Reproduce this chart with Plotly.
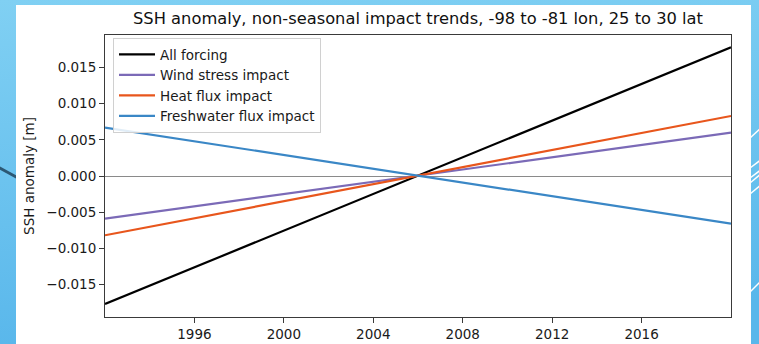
import base64
import plotly.graph_objects as go

# Linear trend end points (start and end of the record), SSH anomaly in metres
years = [1992, 2020]
all_forcing = [-0.0177, 0.0178]
wind_stress = [-0.0059, 0.0060]
heat_flux = [-0.0082, 0.0083]
freshwater_flux = [0.0067, -0.0066]

series_names = ["All forcing", "Wind stress impact", "Heat flux impact", "Freshwater flux impact"]
series_values = [all_forcing, wind_stress, heat_flux, freshwater_flux]
series_colors = ["#000000", "#7b6ab7", "#e8561c", "#3a87c6"]

x_tick_vals = [1996, 2000, 2004, 2008, 2012, 2016]
y_tick_vals = [-0.015, -0.010, -0.005, 0.000, 0.005, 0.010, 0.015]

W, H = 759, 344
L, R, T, B = 105, 28, 35, 27
pw, ph = W - L - R, H - T - B

# Slide backdrop: blue gradient with a few decorative strokes and a white card
svg = f"""<svg xmlns='http://www.w3.org/2000/svg' width='{W}' height='{H}' viewBox='0 0 {W} {H}' preserveAspectRatio='none'>
<defs><linearGradient id='g' x1='0' y1='0' x2='0.15' y2='1'>
<stop offset='0' stop-color='#80d0f3'/><stop offset='1' stop-color='#59b7eb'/></linearGradient></defs>
<rect width='{W}' height='{H}' fill='url(#g)'/>
<line x1='-2' y1='167' x2='18' y2='178' stroke='#2c5874' stroke-width='3'/>
<g stroke='#ffffff' stroke-width='1.5'>
<line x1='750' y1='138' x2='762' y2='127'/>
<line x1='750' y1='168' x2='762' y2='159'/>
<line x1='750' y1='178' x2='762' y2='169'/>
<line x1='750' y1='183' x2='762' y2='173'/>
<line x1='750' y1='194' x2='762' y2='184'/>
<line x1='750' y1='292' x2='762' y2='280'/>
</g>
<rect x='16' y='5' width='735' height='{H - 5}' fill='#ffffff'/>
</svg>"""
svg_uri = "data:image/svg+xml;base64," + base64.b64encode(svg.encode()).decode()

fig = go.Figure()
for name, vals, col in zip(series_names, series_values, series_colors):
    fig.add_trace(go.Scatter(x=years, y=vals, mode="lines", name=name,
                             line=dict(color=col, width=2.2)))

font_family = "DejaVu Sans"
fig.update_layout(
    width=W, height=H,
    margin=dict(l=L, r=R, t=T, b=B, pad=0, autoexpand=False),
    paper_bgcolor="#6cc4ef",
    plot_bgcolor="rgba(255,255,255,0)",
    font=dict(family=font_family, size=13.5, color="#1a1a1a"),
    title=dict(text="SSH anomaly, non-seasonal impact trends, -98 to -81 lon, 25 to 30 lat",
               x=0.5, xref="paper", xanchor="center",
               y=1 - 18 / H, yref="container", yanchor="middle",
               font=dict(size=16.3, color="#111111")),
    showlegend=True,
    legend=dict(x=8 / pw, y=1 - 3 / ph, xanchor="left", yanchor="top", itemwidth=36,
                bgcolor="rgba(255,255,255,0.85)", bordercolor="#d0d0d0", borderwidth=1,
                font=dict(size=13.5, color="#1a1a1a")),
    images=[dict(source=svg_uri, xref="paper", yref="paper",
                 x=-L / pw, y=(ph + T) / ph, sizex=W / pw, sizey=H / ph,
                 sizing="stretch", xanchor="left", yanchor="top", layer="below")],
)
fig.update_xaxes(range=[years[0], years[-1]], tickvals=x_tick_vals, automargin=False,
                 showgrid=False, zeroline=False,
                 showline=True, linecolor="#3a3a3a", linewidth=1, mirror=True,
                 ticks="outside", ticklen=5, tickcolor="#3a3a3a", tickwidth=1)
fig.update_yaxes(range=[-0.0195, 0.0195], tickvals=y_tick_vals, tickformat=".3f", automargin=False,
                 showgrid=False, zeroline=True, zerolinecolor="#8a8a8a", zerolinewidth=1,
                 showline=True, linecolor="#3a3a3a", linewidth=1, mirror=True,
                 ticks="outside", ticklen=5, tickcolor="#3a3a3a", tickwidth=1,
                 title=dict(text="SSH anomaly [m]", standoff=8, font=dict(size=13.5)))

fig.write_html("out.html")
